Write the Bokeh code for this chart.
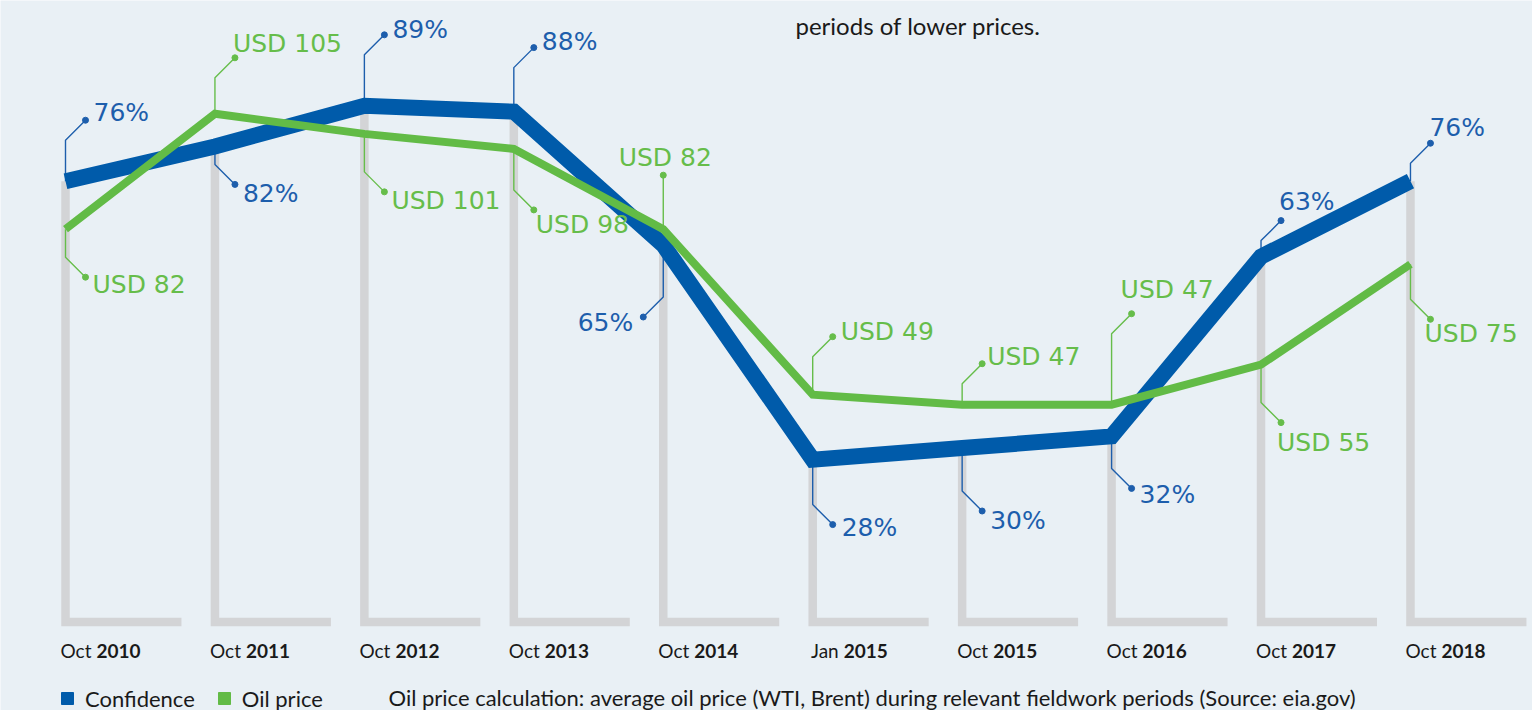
from bokeh.plotting import figure
from bokeh.models import Range1d, ColumnDataSource, Legend, LegendItem, Label
from bokeh.core.properties import value
from bokeh.embed import file_html
from bokeh.resources import INLINE

# ---------------- data ----------------
months = ["Oct", "Oct", "Oct", "Oct", "Oct", "Jan", "Oct", "Oct", "Oct", "Oct"]
years = ["2010", "2011", "2012", "2013", "2014", "2015", "2015", "2016", "2017", "2018"]
confidence = [76, 82, 89, 88, 65, 28, 30, 32, 63, 76]
oil_price = [82, 105, 101, 98, 82, 49, 47, 47, 55, 75]

conf_labels = [f"{v}%" for v in confidence]
oil_labels = [f"USD {v}" for v in oil_price]

# ---------------- layout / style ----------------
W, H = 1532, 710
X0, X1 = -0.43496, 9.8166
C0, C1 = -15.26, 107.16      # confidence scale
O0, O1 = -13.96, 127.59      # oil price scale

BLUE = "#005BAA"
BLUE_TXT = "#1D5EAC"
GREEN = "#62BB46"
GREEN_TXT = "#66BD4A"
GREY = "#D3D4D6"
BG = "#E9F0F5"
INK = "#1A1A1A"

# callout layout: (dot dy px, diagonal direction, text dx px, text dy px, align)
conf_callouts = [(-61, 1, 8, -8, "left"), (38, 1, 8, 9, "left"), (-71, 1, 8, -5, "left"),
                 (-64, 1, 8, -6, "left"), (72, -1, -10, 5, "right"), (65, 1, 9, 3, "left"),
                 (63, 1, 8, 9, "left"), (52, 1, 8, 6, "left"), (-36, 1, -2, -19, "left"),
                 (-38, 1, -1, -16, "left")]
oil_callouts = [(48, 1, 7, 7, "left"), (-56, 1, -2, -14, "left"), (58, 1, 7, 9, "left"),
                (61, 1, 2, 15, "left"), (-54, 0, 2, -18, "center"), (-58, 1, 8, -5, "left"),
                (-41, 1, 5, -7, "left"), (-91, 1, -11, -24, "left"), (58, 1, -4, 20, "left"),
                (55, 1, -6, 14, "left")]


def sx(x):
    return (x - X0) / (X1 - X0) * W


def sy(v, r0, r1):
    return (r1 - v) / (r1 - r0) * H


def ix(px):
    return X0 + px / W * (X1 - X0)


def iv(py, r0, r1):
    return r1 - py / H * (r1 - r0)


xs_idx = list(range(len(years)))

p = figure(width=W, height=H, output_backend="svg", toolbar_location=None,
           x_range=Range1d(X0, X1), y_range=Range1d(C0, C1),
           min_border=0, min_border_left=0, min_border_right=0,
           min_border_top=0, min_border_bottom=0)
p.extra_y_ranges = {"oil": Range1d(O0, O1)}
p.xaxis.visible = False
p.yaxis.visible = False
p.grid.visible = False
p.outline_line_color = None
p.background_fill_color = BG
p.border_fill_color = BG

# grey L-shaped bars from each confidence point down to the baseline
foot = 0.776
bar_xs = [[i, i, i + foot] for i in xs_idx]
bar_ys = [[v, 0, 0] for v in confidence]
p.multi_line(bar_xs, bar_ys, line_color=GREY, line_width=8.5, line_join="miter", line_cap="butt")


def build_callouts(values, callouts, r0, r1):
    lx, ly, dx, dy, tx, ty, al = [], [], [], [], [], [], []
    for i, (v, (ddy, d, tdx, tdy, align)) in enumerate(zip(values, callouts)):
        px, py = sx(i), sy(v, r0, r1)
        sgn = 1 if ddy > 0 else -1
        dotx, doty = px + d * 20, py + ddy
        if d != 0:
            pts = [(px, py), (px, py + ddy - sgn * 20), (dotx, doty)]
        else:
            pts = [(px, py), (dotx, doty)]
        lx.append([ix(a) for a, b in pts])
        ly.append([iv(b, r0, r1) for a, b in pts])
        dx.append(ix(dotx))
        dy.append(iv(doty, r0, r1))
        tx.append(ix(dotx + tdx))
        ty.append(iv(doty + tdy, r0, r1))
        al.append(align)
    return lx, ly, dx, dy, tx, ty, al


c_lx, c_ly, c_dx, c_dy, c_tx, c_ty, c_al = build_callouts(confidence, conf_callouts, C0, C1)
o_lx, o_ly, o_dx, o_dy, o_tx, o_ty, o_al = build_callouts(oil_price, oil_callouts, O0, O1)

p.multi_line(c_lx, c_ly, line_color=BLUE_TXT, line_width=1.4)
p.multi_line(o_lx, o_ly, line_color=GREEN_TXT, line_width=1.4, y_range_name="oil")

# series lines
p.line(xs_idx, confidence, line_color=BLUE, line_width=16, line_join="miter")
p.line(xs_idx, oil_price, line_color=GREEN, line_width=8, line_join="miter", y_range_name="oil")

# callout dots
p.scatter(c_dx, c_dy, size=6, color=BLUE_TXT)
p.scatter(o_dx, o_dy, size=6, color=GREEN_TXT, y_range_name="oil")

# callout texts
csrc = ColumnDataSource(dict(x=c_tx, y=c_ty, t=conf_labels, a=c_al))
osrc = ColumnDataSource(dict(x=o_tx, y=o_ty, t=oil_labels, a=o_al))
p.text(x="x", y="y", text="t", text_align="a", source=csrc, text_baseline="middle",
       text_font=value("DejaVu Sans"), text_font_size="25px", text_color=BLUE_TXT)
p.text(x="x", y="y", text="t", text_align="a", source=osrc, text_baseline="middle",
       text_font=value("DejaVu Sans"), text_font_size="25px", text_color=GREEN_TXT,
       y_range_name="oil")

# x labels: "Oct" regular + year bold
lab_y = iv(sy(0, C0, C1) + 29, C0, C1)
m_x = [ix(sx(i) + 26) for i in xs_idx]
y_x = [ix(sx(i) + 31) for i in xs_idx]
p.text(x=m_x, y=[lab_y] * len(years), text=months, text_align="right", text_baseline="middle",
       text_font=value("Lato"), text_font_size="19px", text_color=INK)
p.text(x=y_x, y=[lab_y] * len(years), text=years, text_align="left", text_baseline="middle",
       text_font=value("Lato"), text_font_size="19px", text_font_style="bold", text_color=INK)

# legend with square swatches (renderers hold no visible point)
nan = float("nan")
sq_conf = p.scatter([nan], [nan], marker="square", size=12, color=BLUE)
sq_oil = p.scatter([nan], [nan], marker="square", size=12, color=GREEN)
legend = Legend(items=[LegendItem(label="Confidence", renderers=[sq_conf]),
                       LegendItem(label="Oil price", renderers=[sq_oil])],
                orientation="horizontal", location=(52, -3),
                glyph_width=30, glyph_height=30, label_standoff=3, spacing=14,
                padding=0, margin=0, background_fill_alpha=0, border_line_color=None,
                label_text_font="Lato", label_text_font_size="22px", label_text_color=INK)
p.add_layout(legend, "center")

p.add_layout(Label(x=388, y=13, x_units="screen", y_units="screen",
                   text="Oil price calculation: average oil price (WTI, Brent) during relevant fieldwork periods (Source: eia.gov)",
                   text_font="Lato", text_font_size="22px", text_color=INK,
                   text_baseline="middle"))
p.add_layout(Label(x=795, y=685, x_units="screen", y_units="screen",
                   text="periods of lower prices.",
                   text_font="Lato", text_font_size="24px", text_color=INK,
                   text_baseline="middle"))

open("out.html", "w").write(file_html(p, INLINE))
